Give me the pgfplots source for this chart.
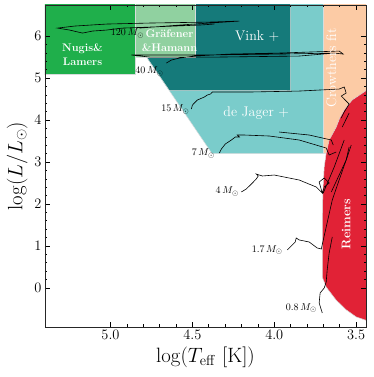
\documentclass[border=0pt]{standalone}
\usepackage{pgfplots}
\pgfplotsset{compat=1.18}
\definecolor{nugis}{HTML}{1FAF4B}
\definecolor{grafener}{HTML}{90D1A0}
\definecolor{vink}{HTML}{157A7A}
\definecolor{jager}{HTML}{7ACCCB}
\definecolor{crowther}{HTML}{FCCBA5}
\definecolor{reimers}{HTML}{E12236}
\definecolor{edge}{HTML}{D8DCDC}

\begin{document}
\begin{tikzpicture}
\begin{axis}[
  scale only axis,
  width=321pt, height=322pt,
  x dir=reverse,
  xmin=3.44, xmax=5.40,
  ymin=-0.93, ymax=6.74,
  xtick={3.5,4.0,4.5,5.0},
  ytick={0,1,2,3,4,5,6},
  minor x tick num=4,
  minor y tick num=4,
  xticklabel style={/pgf/number format/fixed, /pgf/number format/fixed zerofill, /pgf/number format/precision=1},
  tick align=inside,
  major tick length=5pt,
  minor tick length=2.5pt,
  tick style={black, line width=0.6pt},
  axis line style={black!85, line width=0.9pt},
  tick label style={font=\fontsize{14}{16}\selectfont},
  label style={font=\fontsize{21}{24}\selectfont},
  xlabel={$\log(T_{\rm eff}\ [{\rm K}])$},
  ylabel={$\log(L/L_\odot)$},
  axis on top,
]
% mass-loss regions
\addplot[fill=jager, draw=edge, line width=0.5pt] coordinates {(4.85,7) (4.85,5.5) (4.78,5.5) (4.38,3.2) (3.70,3.2) (3.70,7)} -- cycle;
\addplot[fill=vink, draw=edge, line width=0.5pt] coordinates {(4.48,7) (4.48,5.5) (4.78,5.5) (4.64,4.7) (3.90,4.7) (3.90,7)} -- cycle;
\addplot[fill=grafener, draw=edge, line width=0.5pt] coordinates {(4.85,7) (4.85,5.5) (4.48,5.5) (4.48,7)} -- cycle;
\addplot[fill=nugis, draw=edge, line width=0.5pt] coordinates {(5.6,7) (5.6,5.08) (4.85,5.08) (4.85,7)} -- cycle;
\addplot[fill=crowther, draw=edge, line width=0.5pt] coordinates {(3.70,7) (3.70,3.2) (3.3,3.2) (3.3,7)} -- cycle;
\addplot[fill=reimers, draw=edge, line width=0.5pt] coordinates {
  (3.40,4.75) (3.44,4.70) (3.47,4.62) (3.524,4.48) (3.573,4.24) (3.60,4.05) (3.622,3.83)
  (3.665,3.52) (3.683,3.21) (3.695,2.88) (3.703,2.33) (3.707,1.5) (3.707,0.26)
  (3.683,0.02) (3.622,-0.29) (3.561,-0.52) (3.50,-0.69) (3.44,-0.77) (3.40,-0.80)} -- cycle;

% evolutionary tracks
\pgfplotsset{track/.style={black, line width=0.6pt, mark=none}}
\addplot[track] coordinates {(4.823,6.19) (4.579,6.262) (4.213,6.357) (4.396,6.333) (4.762,6.31) (5.024,6.286) (5.220,6.238) (5.323,6.19) (5.25,6.143) (5.171,6.071) (5.110,6.119) (5.024,6.143) (4.927,6.19) (4.762,6.214) (4.457,6.262) (4.366,6.286)};
\addplot[track] coordinates {(4.659,5.357) (4.628,5.429) (4.579,5.476) (4.488,5.524) (4.274,5.571) (3.970,5.595) (3.604,5.643) (3.579,5.571) (3.634,5.595) (3.970,5.571) (4.457,5.548) (4.872,5.548) (4.762,5.5) (4.335,5.5) (3.848,5.524) (3.634,5.595)};
\addplot[track] coordinates {(4.506,4.262) (4.5,4.357) (4.47,4.476) (4.427,4.548) (4.409,4.595) (4.39,4.619) (4.378,4.667) (4.152,4.667) (3.848,4.69) (3.604,4.738) (3.573,4.786) (3.561,4.643) (3.591,4.571) (3.543,4.381) (3.573,4.19) (3.591,4.048)};
\addplot[track] coordinates {(3.543,4.167) (3.585,3.833)};
\addplot[track] coordinates {(4.335,3.214) (4.323,3.31) (4.299,3.429) (4.262,3.524) (4.238,3.595) (4.213,3.595) (4.226,3.643) (4.183,3.643) (4.030,3.619) (3.848,3.524) (3.683,3.333) (3.665,3.167) (3.622,3.238)};
\addplot[track] coordinates {(3.970,3.714) (3.787,3.643) (3.652,3.524) (3.640,3.405)};
\addplot[track] coordinates {(4.201,2.286) (4.171,2.357) (4.140,2.476) (4.110,2.595) (4.098,2.667) (4.110,2.714) (4.073,2.667) (4.0,2.690) (3.848,2.571) (3.744,2.405) (3.707,2.262) (3.726,2.524) (3.695,2.619) (3.665,2.5) (3.695,2.405) (3.707,2.262) (3.701,2.262) (3.634,2.881) (3.573,3.524)};
\addplot[track] coordinates {(3.652,2.286) (3.561,3.048) (3.530,3.405)};
\addplot[track] coordinates {(3.921,0.905) (3.896,1.0) (3.872,1.095) (3.866,1.19) (3.848,1.143) (3.787,1.095) (3.738,0.952) (3.713,0.929) (3.683,1.452) (3.646,2.095) (3.604,2.571) (3.561,3.048) (3.543,3.357)};
\addplot[track] coordinates {(3.707,-0.595) (3.726,-0.357) (3.72,-0.119) (3.695,0.0) (3.683,0.143) (3.677,0.429) (3.665,0.833) (3.646,1.214)};

% region labels
\begin{scope}[every node/.style={text=white, font=\fontsize{14}{16}\selectfont, align=center, inner sep=0pt}]
\node[font=\bfseries\fontsize{11}{14}\selectfont] at (axis cs:5.171,5.56) {Nugis\&\\Lamers};
\node[font=\bfseries\fontsize{11}{14}\selectfont] at (axis cs:4.64,5.90) {Gräfener\\\&Hamann};
\node at (axis cs:4.104,6.0) {Vink +};
\node at (axis cs:4.11,4.167) {de Jager +};
\node[rotate=90] at (axis cs:3.652,5.24) {Crowthers fit};
\node[rotate=90, font=\bfseries\fontsize{12.5}{15}\selectfont] at (axis cs:3.561,1.524) {Reimers};
\end{scope}

% mass labels
\begin{scope}[every node/.style={font=\fontsize{10}{12}\selectfont, inner sep=0pt}]
\node at (axis cs:4.896,6.06) {$120\,M_\odot$};
\node at (axis cs:4.762,5.16) {$40\,M_\odot$};
\node at (axis cs:4.604,4.25) {$15\,M_\odot$};
\node at (axis cs:4.433,3.20) {$7\,M_\odot$};
\node at (axis cs:4.287,2.30) {$4\,M_\odot$};
\node at (axis cs:4.043,0.90) {$1.7\,M_\odot$};
\node at (axis cs:3.835,-0.48) {$0.8\,M_\odot$};
\end{scope}
\end{axis}
\path (current axis.south west) ++(-45pt,-50pt);
\path (current axis.north east) ++(7pt,5pt);
\end{tikzpicture}
\end{document}
